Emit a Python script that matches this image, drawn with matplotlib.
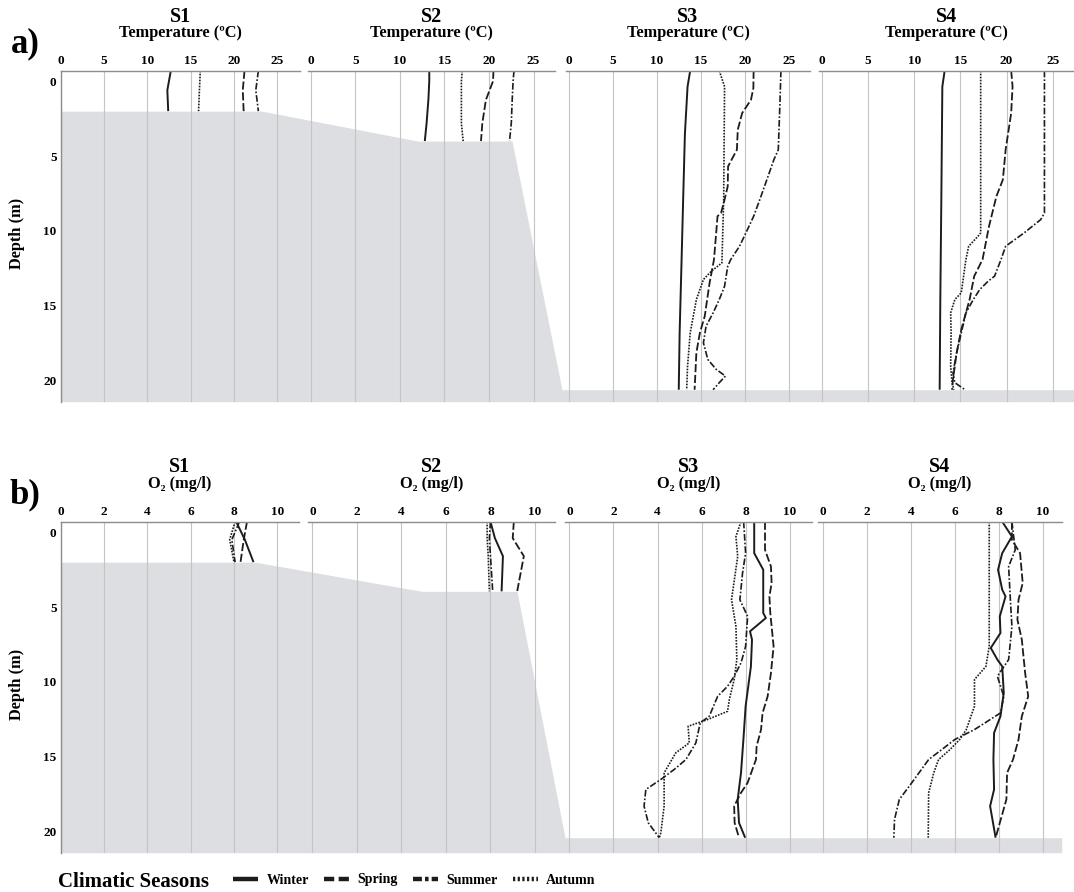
import matplotlib
matplotlib.use('Agg')
import matplotlib.pyplot as plt
from matplotlib.lines import Line2D

# ---------------- data ----------------
seasons = ['Winter', 'Spring', 'Summer', 'Autumn']
stations = ['S1', 'S2', 'S3', 'S4']

# Temperature (ºC) profiles: depth (m) and value per season
t_s1_depth = [-0.7, 0.6, 2.0]
t_s1_winter = [12.7, 12.3, 12.4]
t_s1_spring = [21.2, 21.0, 21.1]
t_s1_summer = [22.8, 22.5, 22.8]
t_s1_autumn = [16.1, 16.0, 15.9]

t_s2_depth = [-0.7, 0.0, 1.25, 2.8, 4.0]
t_s2_winter = [13.3, 13.3, 13.2, 13.0, 12.8]
t_s2_spring = [20.5, 20.45, 19.65, 19.25, 19.1]
t_s2_summer = [22.8, 22.7, 22.6, 22.5, 22.3]
t_s2_autumn = [17.0, 16.9, 16.9, 16.9, 17.1]

t_s3_winter_d = [-0.7, 0.36, 3.5, 7.9, 12.4, 16.8, 20.6]
t_s3_winter = [13.8, 13.5, 13.2, 13.0, 12.8, 12.6, 12.5]
t_s3_spring_d = [-0.7, 0.47, 1.24, 2.13, 3.24, 4.58, 5.02, 5.69, 7.02, 7.91, 8.8, 9.02,
                 10.13, 11.91, 13.47, 15.69, 16.8, 18.13, 20.6]
t_s3_spring = [21.0, 20.97, 20.7, 19.7, 19.2, 19.1, 18.7, 18.1, 18.06, 17.7, 17.3, 16.9,
               16.75, 16.5, 16.0, 15.45, 14.9, 14.5, 14.3]
t_s3_summer_d = [-0.7, 1.24, 4.58, 5.24, 6.58, 7.91, 9.02, 9.91, 11.02, 11.91, 12.36, 13.69,
                 14.58, 15.47, 16.36, 17.47, 18.58, 19.24, 19.69, 20.13, 20.6]
t_s3_summer = [24.1, 24.0, 23.8, 23.3, 22.5, 21.7, 21.0, 20.3, 19.4, 18.4, 18.06, 17.7,
               17.1, 16.4, 15.6, 15.3, 15.8, 16.75, 17.8, 17.1, 16.4]
t_s3_autumn_d = [-0.7, 0.36, 7.91, 12.13, 12.69, 13.24, 14.58, 16.8, 19.02, 20.6]
t_s3_autumn = [17.1, 17.7, 17.6, 17.4, 16.2, 15.3, 14.5, 13.8, 13.5, 13.4]

t_s4_winter_d = [-0.7, 0.36, 7.9, 14.6, 20.6]
t_s4_winter = [13.3, 13.05, 12.94, 12.83, 12.76]
t_s4_spring_d = [-0.7, 0.36, 2.13, 4.58, 6.58, 7.69, 9.69, 11.91, 13.02, 14.58, 16.58,
                 18.13, 19.91, 20.6]
t_s4_spring = [20.5, 20.65, 20.5, 19.9, 19.6, 18.9, 18.1, 17.4, 16.5, 16.0, 15.1,
               14.6, 14.2, 14.1]
t_s4_summer_d = [-0.7, 8.8, 9.24, 10.13, 11.02, 11.91, 13.02, 13.36, 13.91, 14.58, 15.47,
                 16.8, 18.13, 19.47, 20.13, 20.6]
t_s4_summer = [24.1, 24.1, 23.7, 21.9, 19.9, 19.4, 18.7, 18.0, 17.1, 16.4, 15.6,
               15.1, 14.6, 14.2, 14.4, 15.5]
t_s4_autumn_d = [-0.7, 10.13, 10.36, 11.02, 11.91, 14.13, 14.58, 15.47, 16.8, 19.02, 20.13, 20.6]
t_s4_autumn = [17.2, 17.2, 16.9, 15.9, 15.6, 15.1, 14.4, 13.95, 14.0, 13.95, 14.1, 14.3]

# O2 (mg/l) profiles
o_s1_depth = [-0.7, 0.5, 2.0]
o_s1_winter = [8.1, 8.5, 8.9]
o_s1_spring = [8.6, 8.45, 8.3]
o_s1_summer = [8.25, 7.9, 8.05]
o_s1_autumn = [8.05, 7.8, 8.0]

o_s2_depth = [-0.7, 0.4, 1.6, 3.95]
o_s2_winter = [8.0, 8.2, 8.56, 8.5]
o_s2_spring = [9.05, 9.0, 9.5, 9.2]
o_s2_summer = [8.0, 7.95, 8.0, 8.1]
o_s2_autumn = [7.85, 7.85, 7.9, 7.95]

o_s3_winter_d = [-0.7, 1.4, 2.51, 5.4, 5.73, 6.62, 7.18, 8.96, 11.62, 13.84, 16.07, 17.84, 19.4, 20.4]
o_s3_winter = [8.39, 8.39, 8.8, 8.8, 8.92, 8.2, 8.29, 8.24, 8.0, 7.9, 7.79, 7.64, 7.7, 7.98]
o_s3_spring_d = [-0.7, 1.18, 2.29, 3.4, 4.29, 5.4, 7.62, 9.4, 10.96, 12.07, 13.18, 14.29,
                 15.18, 16.73, 17.4, 18.29, 19.4, 20.4]
o_s3_spring = [8.88, 8.88, 9.15, 9.18, 9.08, 9.12, 9.27, 9.15, 9.0, 8.77, 8.7, 8.5,
               8.47, 8.09, 7.79, 7.48, 7.5, 7.7]
o_s3_summer_d = [-0.7, 1.4, 2.73, 4.51, 5.62, 7.62, 8.73, 9.62, 10.29, 10.96, 12.29, 12.73,
                 14.07, 15.18, 15.84, 16.51, 17.18, 18.29, 19.4, 20.4]
o_s3_summer = [7.91, 8.0, 7.86, 7.74, 8.09, 8.0, 7.79, 7.48, 7.18, 6.73, 6.35, 5.94,
               5.74, 5.29, 4.76, 4.15, 3.47, 3.39, 3.58, 4.08]
o_s3_autumn_d = [-0.7, 0.29, 1.62, 4.51, 6.29, 8.51, 9.84, 11.18, 11.96, 12.51, 12.96,
                 14.07, 14.73, 16.07, 18.29, 20.07, 20.4]
o_s3_autumn = [7.79, 7.56, 7.64, 7.36, 7.56, 7.6, 7.48, 7.26, 7.18, 6.27, 5.39,
               5.44, 4.83, 4.3, 4.3, 4.15, 4.08]

o_s4_winter_d = [-0.7, 0.29, 1.4, 2.51, 3.84, 4.29, 5.62, 6.73, 7.73, 8.51, 8.96, 10.73,
                 12.29, 13.4, 15.18, 17.18, 18.29, 20.4]
o_s4_winter = [8.15, 8.59, 8.15, 7.96, 8.15, 8.3, 8.04, 8.07, 7.63, 7.93, 8.15, 8.22,
               8.07, 7.78, 7.75, 7.78, 7.6, 7.85]
o_s4_spring_d = [-0.7, 0.51, 1.4, 3.4, 4.51, 5.84, 7.18, 9.4, 10.96, 12.29, 13.84, 15.18,
                 16.07, 17.84, 20.4]
o_s4_spring = [8.59, 8.59, 8.96, 9.08, 8.89, 8.84, 9.04, 9.19, 9.33, 9.04, 8.89, 8.64,
               8.37, 8.34, 7.85]
o_s4_summer_d = [-0.7, 1.18, 2.29, 4.51, 6.29, 8.51, 9.62, 10.96, 12.07, 13.18, 13.84,
                 14.51, 15.18, 16.96, 17.84, 19.18, 20.4]
o_s4_summer = [8.59, 8.74, 8.44, 8.52, 8.59, 8.44, 7.93, 8.22, 8.07, 6.89, 6.0,
               5.41, 4.81, 3.93, 3.48, 3.26, 3.23]
o_s4_autumn_d = [-0.7, 7.62, 8.96, 9.84, 11.62, 13.18, 13.84, 14.51, 15.18, 16.07, 17.4, 20.4]
o_s4_autumn = [7.56, 7.56, 7.41, 6.89, 6.89, 6.52, 6.22, 5.78, 5.26, 5.04, 4.81, 4.79]

# bottom depth (m) of each station, as drawn in each row
temp_bottom = [2.0, 4.0, 20.6, 20.6]
o2_bottom = [2.0, 3.95, 20.4, 20.4]

temp_ticks = [0, 5, 10, 15, 20, 25]
o2_ticks = [0, 2, 4, 6, 8, 10]
depth_ticks = [0, 5, 10, 15, 20]

temp_profiles = [
    {'Winter': (t_s1_depth, t_s1_winter), 'Spring': (t_s1_depth, t_s1_spring),
     'Summer': (t_s1_depth, t_s1_summer), 'Autumn': (t_s1_depth, t_s1_autumn)},
    {'Winter': (t_s2_depth, t_s2_winter), 'Spring': (t_s2_depth, t_s2_spring),
     'Summer': (t_s2_depth, t_s2_summer), 'Autumn': (t_s2_depth, t_s2_autumn)},
    {'Winter': (t_s3_winter_d, t_s3_winter), 'Spring': (t_s3_spring_d, t_s3_spring),
     'Summer': (t_s3_summer_d, t_s3_summer), 'Autumn': (t_s3_autumn_d, t_s3_autumn)},
    {'Winter': (t_s4_winter_d, t_s4_winter), 'Spring': (t_s4_spring_d, t_s4_spring),
     'Summer': (t_s4_summer_d, t_s4_summer), 'Autumn': (t_s4_autumn_d, t_s4_autumn)},
]
o2_profiles = [
    {'Winter': (o_s1_depth, o_s1_winter), 'Spring': (o_s1_depth, o_s1_spring),
     'Summer': (o_s1_depth, o_s1_summer), 'Autumn': (o_s1_depth, o_s1_autumn)},
    {'Winter': (o_s2_depth, o_s2_winter), 'Spring': (o_s2_depth, o_s2_spring),
     'Summer': (o_s2_depth, o_s2_summer), 'Autumn': (o_s2_depth, o_s2_autumn)},
    {'Winter': (o_s3_winter_d, o_s3_winter), 'Spring': (o_s3_spring_d, o_s3_spring),
     'Summer': (o_s3_summer_d, o_s3_summer), 'Autumn': (o_s3_autumn_d, o_s3_autumn)},
    {'Winter': (o_s4_winter_d, o_s4_winter), 'Spring': (o_s4_spring_d, o_s4_spring),
     'Summer': (o_s4_summer_d, o_s4_summer), 'Autumn': (o_s4_autumn_d, o_s4_autumn)},
]

# ---------------- style / layout ----------------
W, H = 1074, 892
FONT = ['Liberation Serif', 'DejaVu Serif']
plt.rcParams['font.family'] = FONT
plt.rcParams['font.weight'] = 'bold'

LINE_C = '#1c1c1c'
FILL_C = '#dddee1'
GRID_C = '#c4c4c4'
SPINE_C = '#8c8c8c'

plot_style = {
    'Winter': dict(ls='-', lw=1.4),
    'Spring': dict(ls=(0, (4.5, 1.5)), lw=1.3),
    'Summer': dict(ls=(0, (4.0, 1.2, 1.0, 1.2)), lw=1.2),
    'Autumn': dict(ls=(0, (1.0, 0.8)), lw=1.2),
}
legend_style = {
    'Winter': dict(ls='-', lw=3.2),
    'Spring': dict(ls=(0, (2.3, 1.0)), lw=3.2),
    'Summer': dict(ls=(0, (2.0, 0.7, 0.8, 0.7)), lw=3.2),
    'Autumn': dict(ls=(0, (0.5, 0.55)), lw=3.2),
}

YLIM = (21.4, -0.7)
rows = [
    dict(y=(70.7, 401.7), cols=[(60.7, 300), (308, 555), (566, 810), (819, 1074)],
         xlims=[(0, 27.6), (-0.3, 27.4), (-0.3, 27.4), (-0.3, 27.3)],
         ticks=temp_ticks, profiles=temp_profiles, bottom=temp_bottom,
         seabed_x=[60.7, 262, 418, 512, 562, 1074],
         sub='Temperature (ºC)', s_base=21.5, sub_base=37, tag='a)', tag_y=44, ylab_y=233),
    dict(y=(521.7, 852.7), cols=[(60.7, 299), (308, 555), (565, 811.7), (818.3, 1061.7)],
         xlims=[(0, 11.0), (-0.2, 10.9), (-0.2, 11.0), (-0.2, 10.85)],
         ticks=o2_ticks, profiles=o2_profiles, bottom=o2_bottom,
         seabed_x=[60.7, 255, 422, 517, 565, 1061.7],
         sub='O₂ (mg/l)', s_base=472.5, sub_base=488, tag='b)', tag_y=495, ylab_y=684),
]


def rect(l, r, t, b):
    return [l / W, 1 - b / H, (r - l) / W, (b - t) / H]


fig = plt.figure(figsize=(W / 100, H / 100), dpi=100)

for row in rows:
    top, bot = row['y']
    # seabed (bathymetry) background
    x0, x1 = row['seabed_x'][0], row['seabed_x'][-1]
    bg = fig.add_axes(rect(x0, x1, top, bot), zorder=0)
    bg.set_xlim(x0, x1)
    bg.set_ylim(*YLIM)
    bg.axis('off')
    b = row['bottom']
    seabed_depth = [b[0], b[0], b[1], b[1], b[2], b[3]]
    bg.fill_between(row['seabed_x'], seabed_depth, YLIM[0], color=FILL_C, lw=0)

    for i, (l, r) in enumerate(row['cols']):
        ax = fig.add_axes(rect(l, r, top, bot), zorder=2)
        ax.set_facecolor('none')
        ax.set_xlim(*row['xlims'][i])
        ax.set_ylim(*YLIM)
        ax.xaxis.tick_top()
        ax.set_xticks(row['ticks'])
        ax.tick_params(axis='x', length=0, pad=3, labelsize=9.5)
        for s in ['right', 'bottom']:
            ax.spines[s].set_visible(False)
        ax.spines['top'].set_color(SPINE_C)
        ax.spines['top'].set_linewidth(1.0)
        if i == 0:
            ax.spines['left'].set_color(SPINE_C)
            ax.spines['left'].set_linewidth(1.0)
            ax.set_yticks(depth_ticks)
            ax.tick_params(axis='y', length=0, pad=3, labelsize=9.5)
        else:
            ax.spines['left'].set_visible(False)
            ax.set_yticks([])
        ax.grid(axis='x', color=GRID_C, lw=0.8)
        for season in seasons:
            d, v = row['profiles'][i][season]
            ax.plot(v, d, color=LINE_C, solid_capstyle='butt',
                    dash_capstyle='butt', **plot_style[season])
        cx = (l + r) / 2 / W
        fig.text(cx, 1 - row['s_base'] / H, stations[i], ha='center', va='baseline',
                 fontsize=14.5, fontweight='bold')
        fig.text(cx, 1 - row['sub_base'] / H, row['sub'], ha='center', va='baseline',
                 fontsize=11.8, fontweight='bold')

    fig.text(25 / W, 1 - row['tag_y'] / H, row['tag'], ha='center', va='center',
             fontsize=25, fontweight='bold')
    fig.text(17 / W, 1 - row['ylab_y'] / H, 'Depth (m)', rotation=90, ha='center',
             va='center', fontsize=11.8, fontweight='bold')

# legend
fig.text(58 / W, 1 - 882 / H, 'Climatic Seasons', ha='left', va='center',
         fontsize=15, fontweight='bold')
handles = [Line2D([], [], color=LINE_C, solid_capstyle='butt', dash_capstyle='butt',
                  **legend_style[s]) for s in seasons]
fig.legend(handles, seasons, loc='center left', bbox_to_anchor=(233 / W, 1 - 880 / H),
           ncol=4, frameon=False, handlelength=1.8, handletextpad=0.6,
           columnspacing=1.1, borderaxespad=0, borderpad=0,
           prop={'family': FONT, 'weight': 'bold', 'size': 10})

fig.savefig('out.png', dpi=100)
